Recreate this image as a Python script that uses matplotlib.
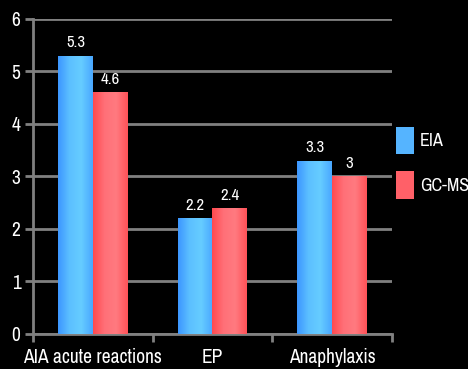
import matplotlib
matplotlib.use("Agg")
import matplotlib.pyplot as plt
import matplotlib.font_manager as fm
from matplotlib.patches import Rectangle
from matplotlib.colors import LinearSegmentedColormap
import numpy as np

categories = ["AIA acute reactions", "EP", "Anaphylaxis"]
eia = [5.3, 2.2, 3.3]
gcms = [4.6, 2.4, 3.0]
eia_labels = ["5.3", "2.2", "3.3"]
gcms_labels = ["4.6", "2.4", "3"]

# narrow font like the original, whichever is there
names = {f.name for f in fm.fontManager.ttflist}
fam = "DejaVu Sans"
for cand in ["Liberation Sans Narrow", "Archivo Narrow", "PT Sans Narrow", "Roboto Condensed"]:
    if cand in names:
        fam = cand
        break
plt.rcParams["font.family"] = [fam, "DejaVu Sans"]

blue_cmap = LinearSegmentedColormap.from_list("b", ["#3d97ff", "#5cc0ff", "#66ccff", "#4aa8ff"])
red_cmap = LinearSegmentedColormap.from_list("r", ["#ff4a4f", "#ff7078", "#ff7a80", "#ff5258"])

fig = plt.figure(figsize=(4.68, 3.69), dpi=100, facecolor="black")
ax = fig.add_axes([0.0705, 0.095, 0.767, 0.854])
ax.set_facecolor("black")

x = np.arange(len(categories))
w = 0.29
grad = np.linspace(0, 1, 64).reshape(1, -1)


def grad_bar(x0, h, cmap):
    r = Rectangle((x0, 0), w, h, facecolor="none", edgecolor="none")
    ax.add_patch(r)
    im = ax.imshow(grad, cmap=cmap, aspect="auto", extent=(x0, x0 + w, 0, h), zorder=3)
    im.set_clip_path(r)


for i in range(len(categories)):
    grad_bar(x[i] - w, eia[i], blue_cmap)
    grad_bar(x[i], gcms[i], red_cmap)
    ax.text(x[i] - w / 2, eia[i] + 0.1, eia_labels[i], color="white", ha="center", va="bottom", fontsize=12)
    ax.text(x[i] + w / 2, gcms[i] + 0.1, gcms_labels[i], color="white", ha="center", va="bottom", fontsize=12)

ax.set_xlim(-0.5, 2.5)
ax.set_ylim(0, 6)
ax.set_yticks(range(7))
ax.set_xticks([-0.5, 0.5, 1.5, 2.5])
ax.set_xticklabels([])
ax.set_xticks(x, minor=True)
ax.set_xticklabels(categories, minor=True)
ax.tick_params(axis="x", which="minor", length=0, pad=10, colors="white", labelsize=14)
ax.tick_params(axis="x", which="major", length=6, width=2, color="#808080")
ax.tick_params(axis="y", length=6, width=2, color="#808080", labelcolor="white", labelsize=14, pad=3)
ax.yaxis.grid(True, color="#808080", linewidth=2)
ax.set_axisbelow(True)
for s in ["top", "right"]:
    ax.spines[s].set_visible(False)
for s in ["left", "bottom"]:
    ax.spines[s].set_color("#808080")
    ax.spines[s].set_linewidth(2)

handles = [Rectangle((0, 0), 1, 1, facecolor="#55b4ff"), Rectangle((0, 0), 1, 1, facecolor="#ff6068")]
fig.legend(handles, ["EIA", "GC-MS"], loc="upper left", bbox_to_anchor=(0.82, 0.69),
           frameon=False, labelcolor="white", fontsize=13, handlelength=0.95, handleheight=1.95,
           handletextpad=0.35, labelspacing=0.95, borderpad=0.2)

fig.savefig("out.png", dpi=100, facecolor="black")
